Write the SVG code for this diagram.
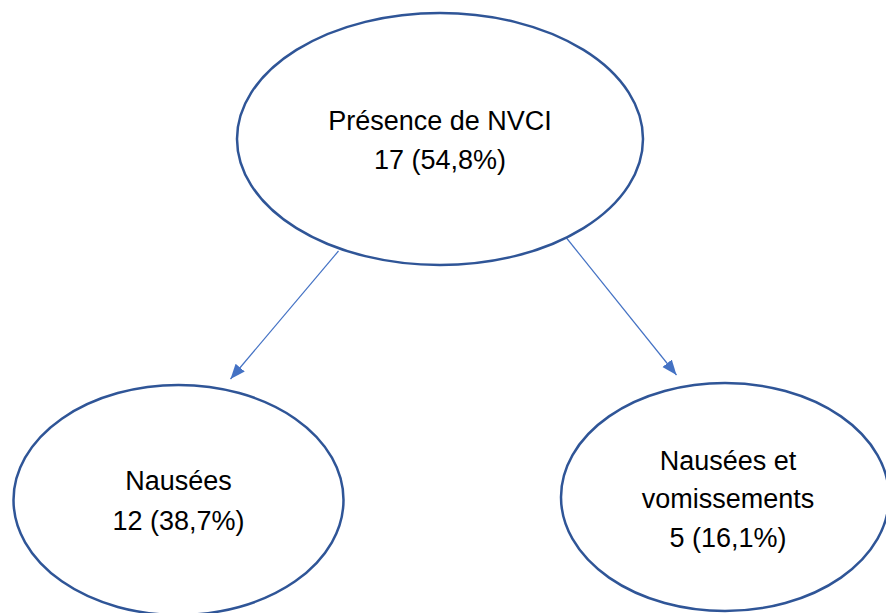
<svg xmlns="http://www.w3.org/2000/svg" width="886" height="613" viewBox="0 0 886 613">
<style>
.node ellipse{fill:#fff;stroke:#2F5597;stroke-width:2.5}
.node text{font-family:"Liberation Sans",Arial,sans-serif;font-size:27px;fill:#000;text-anchor:middle}
.edge{stroke:#4472C4;stroke-width:1.2;fill:none;marker-end:url(#arr)}
</style>
<defs>
<marker id="arr" markerUnits="userSpaceOnUse" markerWidth="16" markerHeight="14" refX="15" refY="6" orient="auto">
<path d="M0,0 L15,6 L0,12 Z" fill="#4472C4"/>
</marker>
</defs>
<rect width="886" height="613" fill="#fff"/>
<g id="connectors">
<line class="edge" x1="338.5" y1="251" x2="230.5" y2="379"/>
<line class="edge" x1="566.5" y1="238" x2="676.5" y2="375"/>
</g>
<g id="n_presence" class="node">
<ellipse cx="440" cy="139" rx="203" ry="126"/>
<text x="440" y="130">Présence de NVCI</text>
<text x="440" y="169">17 (54,8%)</text>
</g>
<g id="n_nausees" class="node">
<ellipse cx="178.5" cy="500" rx="165" ry="115"/>
<text x="178.5" y="490">Nausées</text>
<text x="178.5" y="530">12 (38,7%)</text>
</g>
<g id="n_nv" class="node">
<ellipse cx="725" cy="497" rx="164" ry="114"/>
<text x="728" y="470">Nausées et</text>
<text x="728" y="508">vomissements</text>
<text x="728" y="547">5 (16,1%)</text>
</g>
</svg>
